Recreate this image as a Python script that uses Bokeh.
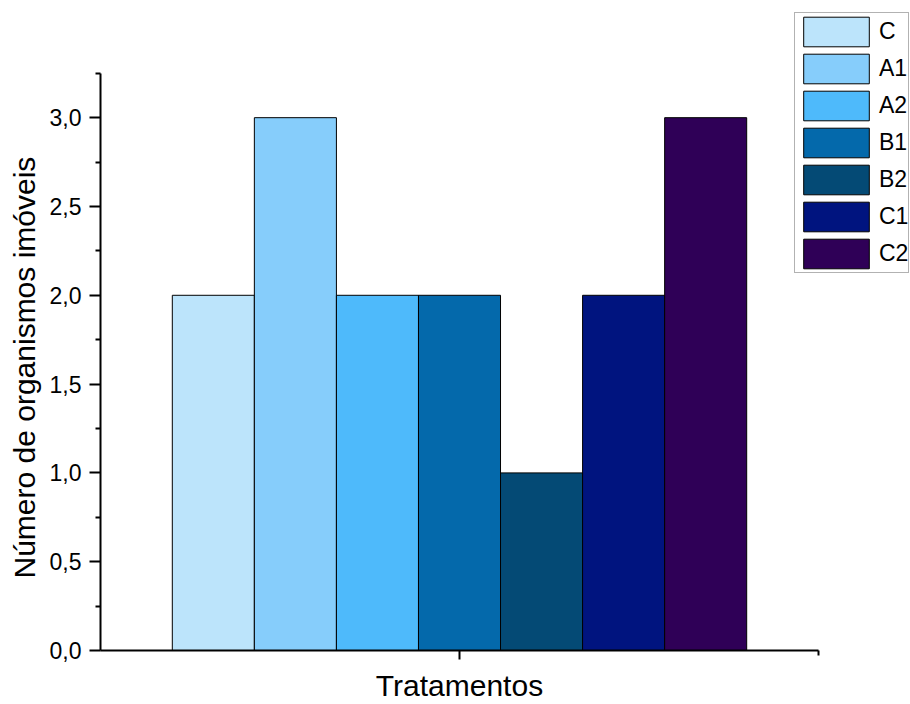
from bokeh.plotting import figure
from bokeh.models import (Range1d, FixedTicker, CustomJSTickFormatter, Legend, LegendItem,
                          ColumnDataSource, Title)
from bokeh.embed import file_html
from bokeh.resources import INLINE

# Data
categories = ["C", "A1", "A2", "B1", "B2", "C1", "C2"]
values = [2.0, 3.0, 2.0, 2.0, 1.0, 2.0, 3.0]
colors = ["#BCE4FB", "#86CDFB", "#4EBAFB", "#0469AB", "#044A75", "#00147F", "#2F0057"]
x_label = "Tratamentos"
y_label = "Número de organismos imóveis"
group_center = 1.0
group_fraction = 0.8
y_ticks = [0.0, 0.5, 1.0, 1.5, 2.0, 2.5, 3.0]
y_minor = [0.25, 0.75, 1.25, 1.75, 2.25, 2.75, 3.25]
x_axis_bounds = (0.5, 1.5)
y_axis_bounds = (0.0, 3.25)

n = len(categories)
bw = group_fraction / n
xs = [group_center - group_fraction / 2 + bw * (i + 0.5) for i in range(n)]

FONT = "Liberation Sans"

# Layout (pixels): axis area from x=100..818, y=73..652; frame extends to canvas edges
W, H = 910, 704
AX_L, AX_R, AX_T, AX_B = 100, 818, 73, 652
ppx = (AX_R - AX_L) / (x_axis_bounds[1] - x_axis_bounds[0])
ppy = (AX_B - AX_T) / (y_axis_bounds[1] - y_axis_bounds[0])
x_end = x_axis_bounds[1] + (W - AX_R) / ppx
y_end = y_axis_bounds[1] + AX_T / ppy

p = figure(width=W, height=H, output_backend="svg", toolbar_location=None,
           x_range=Range1d(x_axis_bounds[0], x_end), y_range=Range1d(y_axis_bounds[0], y_end),
           min_border_left=AX_L, min_border_right=0, min_border_top=0,
           min_border_bottom=H - AX_B)
p.outline_line_color = None
p.xgrid.visible = False
p.ygrid.visible = False

items = []
for i in range(n):
    src = ColumnDataSource(dict(x=[xs[i]], top=[values[i]]))
    r = p.vbar(x="x", top="top", bottom=0, width=bw, source=src,
               fill_color=colors[i], line_color="black", line_width=1)
    items.append(LegendItem(label=categories[i], renderers=[r]))

# legend swatches are drawn inset by 10% of the glyph box
legend = Legend(items=items, location=(794 - AX_L, AX_B - 275), orientation="vertical",
                glyph_width=82, glyph_height=37, spacing=0, padding=0, margin=0,
                label_standoff=2, label_text_font=FONT, label_text_font_size="23px",
                label_text_color="black", label_height=30,
                border_line_color="#666666", border_line_width=1,
                background_fill_color="white", background_fill_alpha=1)
p.add_layout(legend, "center")

# Y axis
ya = p.yaxis[0]
ya.bounds = y_axis_bounds
ya.ticker = FixedTicker(ticks=y_ticks, minor_ticks=y_minor)
ya.formatter = CustomJSTickFormatter(code="return tick.toFixed(1).replace('.', ',');")
ya.major_label_text_font = FONT
ya.major_label_text_font_size = "23px"
ya.major_label_text_color = "black"
ya.major_label_standoff = 8
ya.axis_line_width = 2
ya.major_tick_line_width = 2
ya.minor_tick_line_width = 2
ya.major_tick_out = 11
ya.major_tick_in = 0
ya.minor_tick_out = 5
ya.minor_tick_in = 0

ytitle = Title(text=y_label, align="left", offset=AX_B - 580, vertical_align="middle",
               standoff=9, text_font=FONT, text_font_size="30px",
               text_font_style="normal", text_color="black")
p.add_layout(ytitle, "left")

# X axis: the single category tick carries the axis title
xa = p.xaxis[0]
xa.bounds = x_axis_bounds
xa.ticker = FixedTicker(ticks=[group_center], minor_ticks=[x_axis_bounds[1]])
xa.major_label_overrides = {group_center: x_label}
xa.major_label_text_font = FONT
xa.major_label_text_font_size = "30px"
xa.major_label_text_color = "black"
xa.major_label_standoff = 9
xa.axis_line_width = 2
xa.major_tick_line_width = 2
xa.minor_tick_line_width = 2
xa.major_tick_out = 9
xa.major_tick_in = 0
xa.minor_tick_out = 5
xa.minor_tick_in = 0

open("out.html", "w").write(file_html(p, INLINE))
